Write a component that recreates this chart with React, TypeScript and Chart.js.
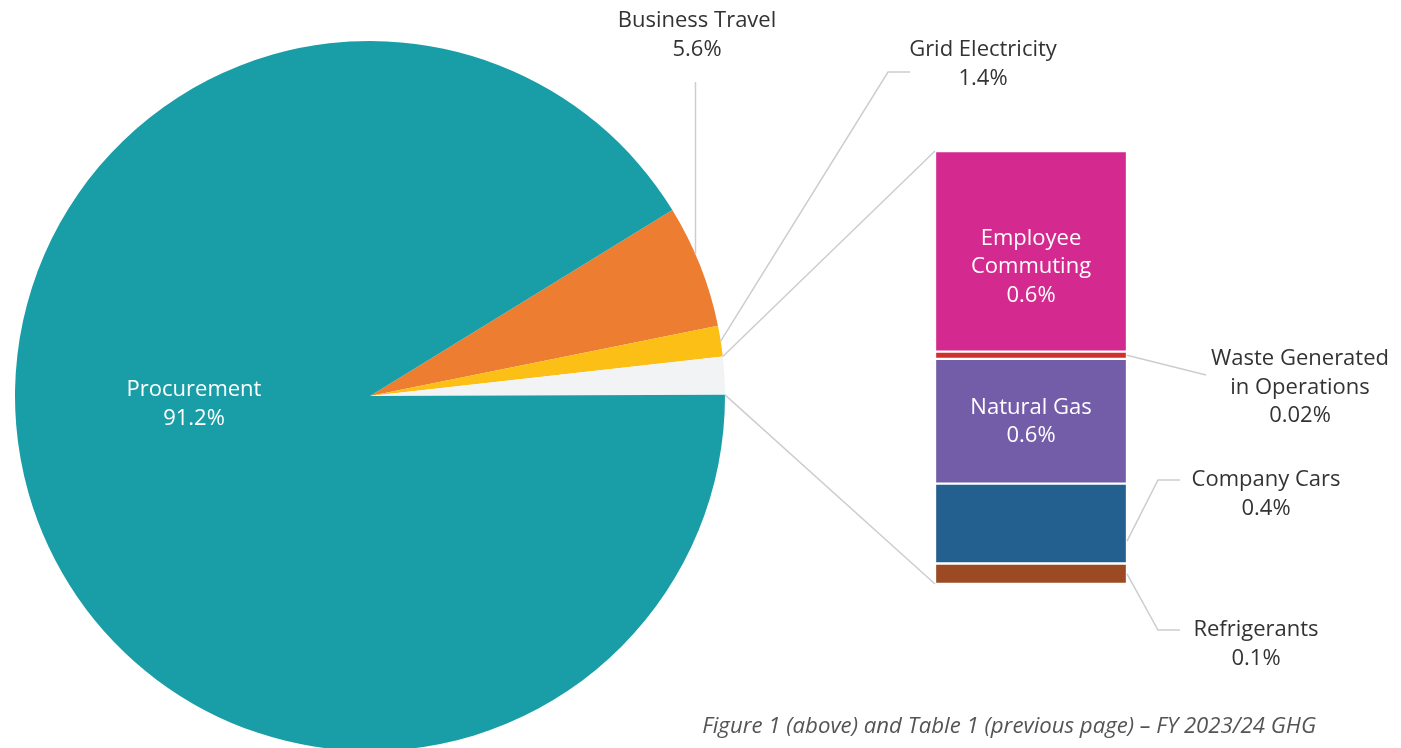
import React, { useEffect, useRef } from "react";
import { Chart, registerables } from "chart.js";
Chart.register(...registerables);

// ---- Data ----
const pieLabels = ["Business Travel", "Grid Electricity", "Other Sources", "Procurement"];
const pieValues = [5.6, 1.4, 1.72, 91.2];
const pieValueText = ["5.6%", "1.4%", "", "91.2%"];
const pieColors = ["#ED7D31", "#FBBF16", "#F2F3F5", "#199EA7"];

const barCategories = ["Refrigerants", "Company Cars", "Natural Gas", "Waste Generated in Operations", "Employee Commuting"];
const barValues = [0.1, 0.39, 0.61, 0.035, 0.98];
const barValueText = ["0.1%", "0.4%", "0.6%", "0.02%", "0.6%"];
const barColors = ["#9B4A23", "#236090", "#735CA8", "#D0312D", "#D4298F"];

const caption = "Figure 1 (above) and Table 1 (previous page) – FY 2023/24 GHG";

const W = 1401;
const H = 800;
const FONT = '"Open Sans", "DejaVu Sans", sans-serif';
const LINE = "#CDCDCD";
const DARK = "#333333";

export default function App() {
  const pieRef = useRef<HTMLCanvasElement | null>(null);
  const barRef = useRef<HTMLCanvasElement | null>(null);

  useEffect(() => {
    document.body.style.margin = "0";
    document.body.style.overflow = "hidden";
    const pie = new Chart(pieRef.current!, {
      type: "pie",
      data: {
        labels: pieLabels,
        datasets: [{ data: pieValues, backgroundColor: pieColors, borderWidth: 0 }],
      },
      options: {
        responsive: false,
        animation: false,
        events: [],
        rotation: 58.4,
        layout: { padding: { left: 15, right: 676, top: 41, bottom: 49 } },
        plugins: { legend: { display: false }, tooltip: { enabled: false } },
      },
    });

    const total = barValues.reduce((a, b) => a + b, 0);

    const overlay = {
      id: "overlay",
      afterDraw(chart: any) {
        const ctx = chart.ctx as CanvasRenderingContext2D;
        const arcs = pie.getDatasetMeta(0).data as any[];
        const ptOn = (arc: any, f: number) => {
          const a = arc.startAngle + f * (arc.endAngle - arc.startAngle);
          return { x: arc.x + arc.outerRadius * Math.cos(a), y: arc.y + arc.outerRadius * Math.sin(a) };
        };
        const segs = barCategories.map((_, i) => chart.getDatasetMeta(i).data[0] as any);
        const left = segs[0].x - segs[0].width / 2;
        const right = segs[0].x + segs[0].width / 2;
        const top = segs[segs.length - 1].y;
        const bottom = segs[0].base;

        ctx.save();
        ctx.strokeStyle = LINE;
        ctx.lineWidth = 1.5;
        const poly = (pts: { x: number; y: number }[]) => {
          ctx.beginPath();
          ctx.moveTo(pts[0].x, pts[0].y);
          for (let i = 1; i < pts.length; i++) ctx.lineTo(pts[i].x, pts[i].y);
          ctx.stroke();
        };
        // Business Travel
        const bt = ptOn(arcs[0], 0.4);
        poly([bt, { x: bt.x, y: 82 }]);
        // Grid Electricity
        const ge = ptOn(arcs[1], 0.5);
        poly([ge, { x: 888, y: 72 }, { x: 910, y: 72 }]);
        // Other slice to bar
        poly([ptOn(arcs[2], 0), { x: left, y: top }]);
        poly([ptOn(arcs[2], 1), { x: left, y: bottom }]);
        // Waste
        const w = segs[3];
        poly([{ x: right, y: (w.y + w.base) / 2 }, { x: 1206, y: 375 }]);
        // Company Cars
        const cc = segs[1];
        poly([{ x: right, y: cc.y + 0.72 * (cc.base - cc.y) }, { x: 1158, y: 480 }, { x: 1180, y: 480 }]);
        // Refrigerants
        const rf = segs[0];
        poly([{ x: right, y: (rf.y + rf.base) / 2 }, { x: 1158, y: 630 }, { x: 1180, y: 630 }]);

        // Text
        ctx.font = `22px ${FONT}`;
        ctx.textAlign = "center";
        ctx.textBaseline = "middle";
        const txt = (lines: string[], x: number, y: number, color: string) => {
          ctx.fillStyle = color;
          lines.forEach((l, i) => ctx.fillText(l, x, y + i * 28.5));
        };
        txt([pieLabels[0], pieValueText[0]], 697, 21, DARK);
        txt([pieLabels[1], pieValueText[1]], 983, 50, DARK);
        txt([pieLabels[3], pieValueText[3]], 194, 390, "#FFFFFF");
        const ec = segs[4];
        txt(["Employee", "Commuting", barValueText[4]], ec.x, (ec.y + ec.base) / 2 - 13, "#FFFFFF");
        const ng = segs[2];
        txt([barCategories[2], barValueText[2]], ng.x, (ng.y + ng.base) / 2 - 14, "#FFFFFF");
        txt(["Waste Generated", "in Operations", barValueText[3]], 1300, 359, DARK);
        txt([barCategories[1], barValueText[1]], 1266, 480, DARK);
        txt([barCategories[0], barValueText[0]], 1256, 630, DARK);

        ctx.font = `italic 22.2px ${FONT}`;
        ctx.textAlign = "right";
        ctx.fillStyle = "#555555";
        ctx.fillText(caption, 1316, 727);
        ctx.restore();
      },
    };

    const bar = new Chart(barRef.current!, {
      type: "bar",
      data: {
        labels: ["Other Sources"],
        datasets: barCategories.map((c, i) => ({
          label: c,
          data: [barValues[i]],
          backgroundColor: barColors[i],
          borderColor: "#FFFFFF",
          borderWidth: 1.5,
          borderSkipped: false,
          categoryPercentage: 1,
          barPercentage: 1,
        })),
      },
      options: {
        responsive: false,
        animation: false,
        events: [],
        layout: { padding: { left: 935, right: 274, top: 151, bottom: 216 } },
        scales: {
          x: { stacked: true, display: false },
          y: { stacked: true, display: false, min: 0, max: total },
        },
        plugins: { legend: { display: false }, tooltip: { enabled: false } },
      },
      plugins: [overlay],
    });

    return () => {
      bar.destroy();
      pie.destroy();
    };
  }, []);

  return (
    <div style={{ position: "relative", width: W, height: 748, overflow: "hidden", background: "#fff" }}>
      <canvas ref={pieRef} width={W} height={H} style={{ position: "absolute", left: 0, top: 0 }} />
      <canvas ref={barRef} width={W} height={H} style={{ position: "absolute", left: 0, top: 0 }} />
    </div>
  );
}
